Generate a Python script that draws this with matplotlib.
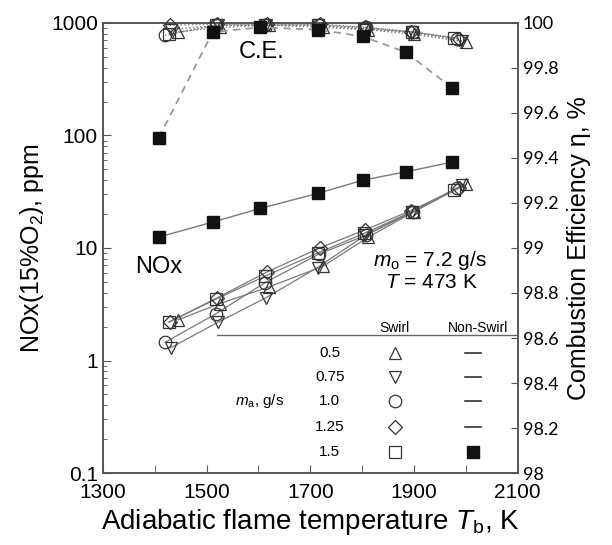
import numpy as np
import matplotlib.pyplot as plt
from matplotlib.ticker import LogLocator, NullFormatter

plt.rcParams['font.family'] = ['Liberation Sans', 'DejaVu Sans']
plt.rcParams['mathtext.fontset'] = 'custom'
plt.rcParams['mathtext.rm'] = 'Liberation Sans'
plt.rcParams['mathtext.it'] = 'Liberation Sans:italic'

# =========================================
# DATA
# =========================================
flow_labels = ["0.5", "0.75", "1.0", "1.25", "1.5"]
swirl_markers = ["^", "v", "o", "D", "s"]
swirl_sizes = [9, 9, 9, 7, 9]

# swirl: adiabatic flame temperature per air flow rate
t_swirl = {
    "0.5":  [1445, 1525, 1620, 1725, 1812, 1900, 2001],
    "0.75": [1431, 1523, 1614, 1714, 1806, 1896, 1992],
    "1.0":  [1420, 1518, 1612, 1716, 1808, 1898, 1982],
    "1.25": [1429, 1520, 1616, 1718, 1806, 1894, 1986],
    "1.5":  [1427, 1518, 1612, 1714, 1804, 1896, 1978],
}
nox_swirl = {
    "0.5":  [2.3, 3.2, 4.5, 6.9, 12.5, 21.0, 37.0],
    "0.75": [1.3, 2.2, 3.6, 6.7, 13.0, 21.0, 36.0],
    "1.0":  [1.45, 2.6, 4.9, 8.8, 13.0, 21.0, 34.0],
    "1.25": [2.2, 3.6, 6.1, 10.0, 14.5, 21.5, 34.0],
    "1.5":  [2.2, 3.5, 5.6, 9.0, 13.5, 21.0, 33.0],
}
ce_swirl = {
    "0.5":  [99.96, 99.98, 99.99, 99.98, 99.97, 99.95, 99.915],
    "0.75": [99.97, 99.99, 99.99, 99.99, 99.97, 99.96, 99.92],
    "1.0":  [99.945, 99.99, 99.99, 99.99, 99.98, 99.96, 99.93],
    "1.25": [99.99, 99.995, 99.995, 99.995, 99.98, 99.96, 99.93],
    "1.5":  [99.95, 99.99, 99.99, 99.99, 99.975, 99.96, 99.935],
}

# non-swirl (1.5 g/s)
t_nonswirl = [1408, 1512, 1604, 1714, 1801, 1884, 1974]
nox_nonswirl = [12.5, 17.0, 22.5, 30.5, 40.0, 47.5, 58.0]
ce_nonswirl = [99.49, 99.96, 99.98, 99.97, 99.94, 99.87, 99.71]

# =========================================
# PLOT
# =========================================
fig = plt.figure(figsize=(6.12, 5.45), dpi=100)
ax = fig.add_axes([0.168, 0.132, 0.678, 0.826])
ax2 = ax.twinx()

gray = "#7a7a7a"

for lab, mk, ms in zip(flow_labels, swirl_markers, swirl_sizes):
    ax.plot(t_swirl[lab], nox_swirl[lab], color=gray, lw=0.9, zorder=2)
    ax.plot(t_swirl[lab], nox_swirl[lab], ls="none", marker=mk, ms=ms,
            mfc="none", mec="#333333", mew=0.9, zorder=3)
    ax2.plot(t_swirl[lab], ce_swirl[lab], color=gray, lw=1.0, ls=":",
             zorder=2, clip_on=False)
    ax2.plot(t_swirl[lab], ce_swirl[lab], ls="none", marker=mk, ms=ms,
             mfc="none", mec="#333333", mew=0.9, zorder=3, clip_on=False)

ax.plot(t_nonswirl, nox_nonswirl, color=gray, lw=1.0, marker="s", ms=9,
        mfc="#111111", mec="#111111", zorder=4)
ax2.plot(t_nonswirl, ce_nonswirl, color="#999999", lw=1.3, ls=(0, (4, 3)),
         marker="s", ms=9, mfc="#111111", mec="#111111", zorder=4,
         clip_on=False)

# axes setup
ax.set_yscale("log")
ax.set_xlim(1300, 2100)
ax.set_ylim(0.1, 1000)
ax.set_xticks(np.arange(1300, 2101, 200))
ax.set_xticks(np.arange(1300, 2101, 100), minor=True)
ax.yaxis.set_minor_locator(LogLocator(base=10, subs=np.arange(2, 10), numticks=20))
ax.yaxis.set_minor_formatter(NullFormatter())
ax.set_yticks([0.1, 1, 10, 100, 1000])
ax.set_yticklabels(["0.1", "1", "10", "100", "1000"])
ax.tick_params(axis="both", which="both", direction="in", labelsize=15,
               color="#555555")
ax.tick_params(axis="both", which="major", length=6)
ax.tick_params(axis="both", which="minor", length=3)
ax.tick_params(axis="x", which="minor", length=6)
ax.tick_params(axis="x", pad=7)

ax2.set_ylim(98, 100)
ax2.set_yticks(np.arange(98, 100.01, 0.2))
ax2.set_yticklabels(["98", "98.2", "98.4", "98.6", "98.8", "99", "99.2",
                     "99.4", "99.6", "99.8", "100"])
ax2.tick_params(axis="y", direction="in", length=5, labelsize=13,
                color="#555555")
for t in ax2.get_yticklabels():
    t.set_fontfamily("Lato")

for sp in ax.spines.values():
    sp.set_color("#555555")
    sp.set_linewidth(1.2)
for sp in ax2.spines.values():
    sp.set_color("#555555")
    sp.set_linewidth(1.2)

ax.set_xlabel("Adiabatic flame temperature $\\mathit{T}_{\\mathrm{b}}$, K",
              fontsize=20, labelpad=4)
ax.set_ylabel("NOx(15%O$_2$), ppm", fontsize=18, labelpad=4)
ax2.set_ylabel("Combustion Efficiency η, %", fontsize=18, labelpad=6)

# annotations
ax.text(1607, 550, "C.E.", fontsize=17, ha="center", va="center")
ax.text(1408, 6.8, "NOx", fontsize=17, ha="center", va="center")
ax.text(1930, 7.8, "$\\mathit{m}_{\\mathrm{o}}$ = 7.2 g/s", fontsize=15,
        ha="center", va="center")
ax.text(1934, 4.9, "$\\mathit{T}$ = 473 K", fontsize=15,
        ha="center", va="center")

# legend table
tr = ax.transAxes
ax.plot([0.275, 1.0], [0.307, 0.307], color="#666666", lw=1.0, transform=tr)
ax.text(0.704, 0.322, "Swirl", fontsize=10, ha="center", va="center",
        transform=tr)
ax.text(0.905, 0.322, "Non-Swirl", fontsize=10, ha="center", va="center",
        transform=tr)
ax.text(0.378, 0.16, "$\\mathit{m}_{\\mathrm{a}}$, g/s", fontsize=11,
        ha="center", va="center", transform=tr)
row_y = [0.267, 0.213, 0.160, 0.102, 0.047]
for i, (lab, mk, ms) in enumerate(zip(flow_labels, swirl_markers, swirl_sizes)):
    y = row_y[i]
    ax.text(0.547, y, lab, fontsize=11, ha="center", va="center",
            transform=tr)
    ax.plot([0.704], [y], ls="none", marker=mk, ms=ms, mfc="none",
            mec="#333333", mew=0.9, transform=tr)
    if lab == "1.5":
        ax.plot([0.892], [y], ls="none", marker="s", ms=9, mfc="#111111",
                mec="#111111", transform=tr)
    else:
        ax.plot([0.872, 0.912], [y, y], color="#333333", lw=1.2,
                transform=tr)

fig.savefig("out.png", dpi=100)
